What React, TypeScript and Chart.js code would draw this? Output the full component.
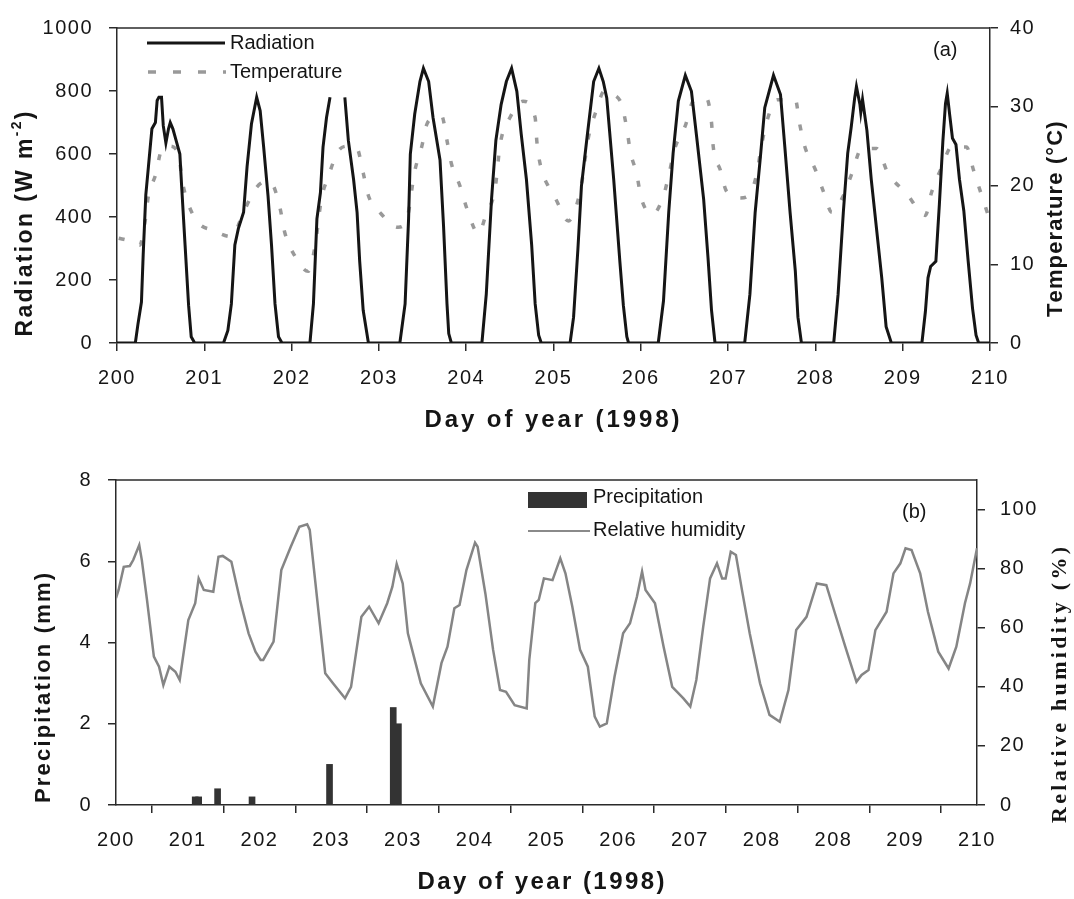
import React, { useEffect, useRef } from 'react';
import { Chart, registerables } from 'chart.js';

Chart.register(...registerables);

const W = 1074;
const TOP_H = 450;
const BOT_H = 449;

// ---------- Panel (a) data ----------
const radiation: [number, number | null][] = [
  [200.0, 0], [200.21, 0], [200.24, 60], [200.28, 130], [200.3, 280], [200.33, 470], [200.36, 560], [200.4, 680],
  [200.44, 700], [200.46, 770], [200.48, 780], [200.51, 780], [200.53, 690], [200.56, 635], [200.59, 680], [200.61, 700],
  [200.64, 680], [200.68, 640], [200.72, 600], [200.74, 500], [200.78, 310], [200.82, 120], [200.85, 20], [200.89, 0],
  [201.22, 0], [201.27, 40], [201.31, 124], [201.35, 311], [201.39, 363], [201.45, 415], [201.49, 560], [201.54, 695],
  [201.6, 780], [201.64, 737], [201.68, 622], [201.73, 467], [201.77, 311], [201.81, 124], [201.85, 20], [201.89, 0],
  [202.21, 0], [202.25, 124], [202.29, 394], [202.33, 477], [202.36, 622], [202.4, 716], [202.44, 780], [202.52, null],
  [202.61, 780], [202.65, 643], [202.71, 519], [202.75, 415], [202.78, 259], [202.82, 104], [202.88, 0],
  [203.24, 0], [203.3, 124], [203.34, 394], [203.36, 600], [203.41, 726], [203.47, 830], [203.51, 872], [203.57, 830],
  [203.62, 716], [203.7, 581], [203.74, 374], [203.78, 124], [203.8, 30], [203.83, 0],
  [204.18, 0], [204.23, 155], [204.29, 456], [204.34, 643], [204.4, 757], [204.46, 830], [204.52, 872], [204.58, 799],
  [204.63, 664], [204.69, 519], [204.75, 311], [204.79, 124], [204.83, 25], [204.86, 0],
  [205.19, 0], [205.23, 82], [205.28, 300], [205.32, 498], [205.38, 643], [205.46, 830], [205.52, 872], [205.57, 830],
  [205.61, 778], [205.69, 518], [205.76, 259], [205.8, 120], [205.84, 20], [205.86, 0],
  [206.2, 0], [206.26, 134], [206.32, 415], [206.37, 602], [206.43, 768], [206.51, 850], [206.58, 799], [206.64, 654],
  [206.72, 456], [206.77, 270], [206.81, 104], [206.85, 0],
  [207.19, 0], [207.25, 155], [207.31, 415], [207.37, 591], [207.42, 747], [207.52, 850], [207.6, 789], [207.65, 622],
  [207.71, 415], [207.77, 228], [207.8, 82], [207.84, 0],
  [208.21, 0], [208.26, 155], [208.32, 415], [208.37, 602], [208.41, 685], [208.45, 778], [208.47, 814], [208.51, 757],
  [208.52, 732], [208.54, 773], [208.59, 675], [208.64, 519], [208.7, 363], [208.76, 207], [208.81, 52], [208.87, 0],
  [209.22, 0], [209.26, 100], [209.29, 207], [209.32, 243], [209.38, 259], [209.42, 440], [209.46, 640], [209.49, 760],
  [209.51, 793], [209.54, 720], [209.57, 650], [209.61, 630], [209.65, 520], [209.7, 420], [209.75, 260], [209.8, 110],
  [209.84, 25], [209.87, 0], [210.0, 0],
];

const temperature: [number, number][] = [
  [200.02, 13.3], [200.13, 13.0], [200.26, 12.4], [200.32, 15.3], [200.36, 18.7], [200.44, 21.3], [200.51, 24.5],
  [200.6, 25.0], [200.71, 23.8], [200.74, 21.1], [200.8, 18.2], [200.93, 15.3], [201.1, 14.3], [201.31, 13.5],
  [201.45, 16.6], [201.58, 19.5], [201.7, 20.5], [201.77, 20.3], [201.87, 17.0], [201.92, 14.1], [202.04, 11.0],
  [202.19, 9.1], [202.27, 12.4], [202.34, 18.2], [202.42, 21.1], [202.53, 24.3], [202.65, 25.0], [202.75, 24.7],
  [202.82, 21.6], [202.88, 18.7], [203.01, 16.6], [203.22, 14.7], [203.32, 15.7], [203.41, 21.8], [203.49, 24.9],
  [203.55, 27.8], [203.64, 28.6], [203.72, 28.8], [203.78, 25.7], [203.83, 22.8], [203.93, 19.9], [204.01, 17.0],
  [204.14, 13.9], [204.23, 16.4], [204.33, 19.5], [204.39, 25.3], [204.5, 28.6], [204.65, 30.7], [204.79, 28.6],
  [204.81, 25.5], [204.85, 22.6], [204.96, 19.5], [205.02, 18.4], [205.17, 15.5], [205.25, 17.0], [205.32, 20.1],
  [205.36, 23.2], [205.4, 26.1], [205.48, 29.2], [205.59, 32.1], [205.7, 31.5], [205.78, 30.3], [205.84, 27.2],
  [205.88, 24.3], [205.95, 21.6], [206.01, 18.2], [206.14, 16.4], [206.26, 18.7], [206.32, 21.3], [206.39, 24.7],
  [206.51, 27.6], [206.6, 30.7], [206.75, 31.1], [206.81, 28.0], [206.83, 24.9], [206.91, 22.0], [206.98, 19.3],
  [207.14, 18.4], [207.25, 18.9], [207.33, 21.6], [207.38, 24.9], [207.44, 28.0], [207.56, 30.9], [207.77, 30.9],
  [207.82, 27.8], [207.88, 24.9], [208.0, 22.0], [208.09, 19.3], [208.19, 16.6], [208.32, 18.7], [208.42, 21.6],
  [208.53, 24.7], [208.7, 24.7], [208.83, 21.6], [209.05, 18.9], [209.26, 16.2], [209.33, 19.1], [209.45, 22.4],
  [209.56, 24.9], [209.73, 24.9], [209.81, 22.0], [209.9, 18.9], [209.98, 16.2],
];

const topXTicks = [200, 201, 202, 203, 204, 205, 206, 207, 208, 209, 210];
const radiationTicks = [0, 200, 400, 600, 800, 1000];
const temperatureTicks = [0, 10, 20, 30, 40];

// ---------- Panel (b) data ----------
const precipDays = [200.92, 200.96, 201.18, 201.58, 202.48, 203.22, 203.28];
const precipMm = [0.2, 0.2, 0.4, 0.2, 1.0, 2.4, 2.0];

const humidity: [number, number][] = [
  [200.0, 70.0], [200.03, 72.8], [200.09, 80.6], [200.16, 80.9], [200.2, 82.9], [200.27, 88.0], [200.3, 82.9],
  [200.36, 69.4], [200.44, 50.2], [200.5, 46.8], [200.55, 40.6], [200.62, 46.8], [200.69, 45.1], [200.74, 42.3],
  [200.84, 62.6], [200.92, 68.3], [200.96, 76.7], [201.02, 72.8], [201.13, 72.2], [201.19, 84.0], [201.24, 84.3],
  [201.34, 82.3], [201.44, 69.4], [201.54, 58.1], [201.62, 51.9], [201.68, 49.1], [201.71, 49.1], [201.83, 55.3],
  [201.92, 79.5], [202.03, 87.4], [202.13, 94.2], [202.22, 95.0], [202.25, 93.1], [202.35, 66.0], [202.43, 44.6],
  [202.52, 41.2], [202.66, 36.1], [202.73, 40.0], [202.85, 63.7], [202.94, 67.1], [203.05, 61.5], [203.15, 68.3],
  [203.21, 73.9], [203.26, 81.6], [203.33, 75.0], [203.39, 58.1], [203.46, 50.2], [203.54, 41.2], [203.68, 33.3],
  [203.78, 48.0], [203.85, 53.6], [203.93, 66.6], [203.99, 67.7], [204.07, 79.5], [204.17, 88.8], [204.2, 87.4],
  [204.29, 71.6], [204.38, 52.5], [204.46, 38.9], [204.53, 38.3], [204.63, 33.8], [204.77, 32.7], [204.8, 49.1],
  [204.87, 68.3], [204.91, 69.4], [204.97, 76.7], [205.07, 76.1], [205.16, 83.5], [205.22, 78.4], [205.3, 67.1],
  [205.39, 52.5], [205.48, 46.8], [205.56, 29.9], [205.62, 26.5], [205.7, 27.6], [205.79, 43.4], [205.89, 58.1],
  [205.97, 61.5], [206.05, 70.5], [206.11, 79.0], [206.15, 72.8], [206.26, 68.3], [206.36, 53.6], [206.46, 40.0],
  [206.59, 36.1], [206.67, 33.3], [206.74, 42.3], [206.82, 60.3], [206.9, 76.7], [206.98, 81.8], [207.04, 76.7],
  [207.08, 76.7], [207.14, 85.7], [207.2, 84.6], [207.27, 72.8], [207.36, 58.1], [207.48, 41.2], [207.59, 30.5],
  [207.71, 28.2], [207.81, 38.9], [207.9, 59.2], [208.02, 63.7], [208.14, 75.0], [208.25, 74.4], [208.35, 64.9],
  [208.47, 53.6], [208.6, 41.7], [208.66, 44.0], [208.74, 45.7], [208.82, 59.2], [208.95, 65.4], [209.03, 78.4],
  [209.11, 81.8], [209.17, 86.9], [209.24, 86.3], [209.34, 78.4], [209.43, 65.4], [209.55, 51.9], [209.67, 46.2],
  [209.76, 53.6], [209.86, 68.3], [209.92, 75.0], [210.0, 86.9],
];

const bottomXTicks = [200, 200.833, 201.667, 202.5, 203.333, 204.167, 205, 205.833, 206.667, 207.5, 208.333, 209.167, 210];
const bottomXLabels = ['200', '201', '202', '203', '203', '204', '205', '206', '207', '208', '208', '209', '210'];
const precipTicks = [0, 2, 4, 6, 8];
const humidityTicks = [0, 20, 40, 60, 80, 100];

// ---------- styling helpers ----------
const INK = '#151515';
const AXIS = '#2a2a2a';
const SANS = '"Liberation Sans", Arial, sans-serif';
const SERIF = '"Liberation Serif", "Times New Roman", serif';

function fitText(ctx: CanvasRenderingContext2D, text: string, cx: number, cy: number, width: number, font: string, rotate: boolean) {
  ctx.save();
  ctx.font = font;
  (ctx as any).letterSpacing = '0px';
  const w0 = ctx.measureText(text).width;
  const n = Array.from(text).length;
  const sp = n > 1 ? (width - w0) / (n - 1) : 0;
  ctx.translate(cx, cy);
  if (rotate) ctx.rotate(-Math.PI / 2);
  ctx.fillStyle = INK;
  ctx.textAlign = 'left';
  ctx.textBaseline = 'middle';
  let x = -width / 2;
  for (const ch of Array.from(text)) {
    ctx.fillText(ch, x, 0);
    x += ctx.measureText(ch).width + sp;
  }
  ctx.restore();
}

function plainText(ctx: CanvasRenderingContext2D, text: string, x: number, y: number, font: string) {
  ctx.save();
  (ctx as any).letterSpacing = '0px';
  ctx.font = font;
  ctx.fillStyle = INK;
  ctx.textAlign = 'left';
  ctx.textBaseline = 'middle';
  ctx.fillText(text, x, y);
  ctx.restore();
}

function radiationTitle(ctx: CanvasRenderingContext2D) {
  const main = `bold 23px ${SANS}`;
  const sup = `bold 14px ${SANS}`;
  const parts: [string, string, number][] = [['Radiation (W m', main, 0], ['-2', sup, -9], [')', main, 0]];
  ctx.save();
  (ctx as any).letterSpacing = '0px';
  let total = 0;
  let count = 0;
  for (const [t, f] of parts) {
    ctx.font = f;
    for (const ch of Array.from(t)) { total += ctx.measureText(ch).width; count++; }
  }
  const target = 225;
  const sp = (target - total) / (count - 1);
  ctx.translate(26, 224);
  ctx.rotate(-Math.PI / 2);
  ctx.fillStyle = INK;
  ctx.textAlign = 'left';
  ctx.textBaseline = 'middle';
  let x = -target / 2;
  for (const [t, f, dy] of parts) {
    ctx.font = f;
    for (const ch of Array.from(t)) {
      ctx.fillText(ch, x, dy);
      x += ctx.measureText(ch).width + sp;
    }
  }
  ctx.restore();
}

const tickFont = { family: SANS, size: 20 };

function axisCommon(extra: any) {
  return {
    grid: { display: true, drawOnChartArea: false, drawTicks: true, tickLength: 8, color: AXIS, lineWidth: 1.5 },
    border: { display: true, color: AXIS, width: 1.5 },
    ...extra,
  };
}

const spacingPlugin = {
  id: 'tickSpacing',
  beforeDraw(chart: any) {
    (chart.ctx as any).letterSpacing = '1.5px';
  },
};

const topDecor = {
  id: 'topDecor',
  afterDraw(chart: any) {
    const ctx: CanvasRenderingContext2D = chart.ctx;
    const a = chart.chartArea;
    ctx.save();
    (ctx as any).letterSpacing = '0px';
    ctx.strokeStyle = AXIS;
    ctx.lineWidth = 1.5;
    ctx.beginPath();
    ctx.moveTo(a.left, a.top);
    ctx.lineTo(a.right, a.top);
    ctx.stroke();
    // legend
    ctx.strokeStyle = INK;
    ctx.lineWidth = 3;
    ctx.beginPath();
    ctx.moveTo(147, 43);
    ctx.lineTo(225, 43);
    ctx.stroke();
    ctx.strokeStyle = '#999999';
    ctx.lineWidth = 3.5;
    ctx.setLineDash([8, 17]);
    ctx.beginPath();
    ctx.moveTo(148, 72);
    ctx.lineTo(226, 72);
    ctx.stroke();
    ctx.setLineDash([]);
    ctx.restore();
    plainText(ctx, 'Radiation', 230, 43, `20px ${SANS}`);
    plainText(ctx, 'Temperature', 230, 72, `20px ${SANS}`);
    plainText(ctx, '(a)', 933, 50, `20px ${SANS}`);
    radiationTitle(ctx);
    fitText(ctx, 'Temperature (°C)', 1056, 220, 194, `bold 22px ${SANS}`, true);
    fitText(ctx, 'Day of year (1998)', 552, 420, 255, `bold 24px ${SANS}`, false);
  },
};

const bottomDecor = {
  id: 'bottomDecor',
  afterDraw(chart: any) {
    const ctx: CanvasRenderingContext2D = chart.ctx;
    const a = chart.chartArea;
    ctx.save();
    (ctx as any).letterSpacing = '0px';
    ctx.strokeStyle = AXIS;
    ctx.lineWidth = 1.5;
    ctx.beginPath();
    ctx.moveTo(a.left, a.top);
    ctx.lineTo(a.right, a.top);
    ctx.stroke();
    // legend
    ctx.fillStyle = '#333333';
    ctx.fillRect(528, 42, 59, 16);
    ctx.strokeStyle = '#8a8a8a';
    ctx.lineWidth = 2;
    ctx.beginPath();
    ctx.moveTo(528, 81);
    ctx.lineTo(590, 81);
    ctx.stroke();
    ctx.restore();
    plainText(ctx, 'Precipitation', 593, 47, `20px ${SANS}`);
    plainText(ctx, 'Relative humidity', 593, 80, `20px ${SANS}`);
    plainText(ctx, '(b)', 902, 62, `20px ${SANS}`);
    fitText(ctx, 'Precipitation (mm)', 44, 238, 230, `bold 22px ${SANS}`, true);
    fitText(ctx, 'Relative humidity (%)', 1060, 235, 276, `bold 22px ${SERIF}`, true);
    fitText(ctx, 'Day of year (1998)', 541, 432, 247, `bold 24px ${SANS}`, false);
  },
};

function topConfig(): any {
  return {
    type: 'line',
    data: {
      datasets: [
        {
          label: 'Radiation',
          data: radiation.map(([x, y]) => ({ x, y })),
          yAxisID: 'y',
          borderColor: INK,
          borderWidth: 3,
          pointRadius: 0,
          tension: 0,
          spanGaps: false,
        },
        {
          label: 'Temperature',
          data: temperature.map(([x, y]) => ({ x, y })),
          yAxisID: 'y2',
          borderColor: '#999999',
          borderWidth: 3.5,
          borderDash: [6, 16],
          pointRadius: 0,
          cubicInterpolationMode: 'monotone',
        },
      ],
    },
    options: {
      responsive: false,
      animation: false,
      events: [],
      layout: { padding: { top: 21, left: 0, right: 0, bottom: 0 } },
      plugins: { legend: { display: false }, tooltip: { enabled: false } },
      scales: {
        x: axisCommon({
          type: 'linear', position: 'bottom', min: 200, max: 210,
          afterBuildTicks: (s: any) => { s.ticks = topXTicks.map((v) => ({ value: v })); },
          afterFit: (s: any) => { s.height = TOP_H - 343; },
          ticks: { font: tickFont, color: INK, padding: 15, autoSkip: false, maxRotation: 0, callback: (v: any) => String(v) },
        }),
        y: axisCommon({
          type: 'linear', position: 'left', min: 0, max: 1000,
          afterBuildTicks: (s: any) => { s.ticks = radiationTicks.map((v) => ({ value: v })); },
          afterFit: (s: any) => { s.width = 117; },
          ticks: { font: tickFont, color: INK, padding: 16, callback: (v: any) => String(v) },
        }),
        y2: axisCommon({
          type: 'linear', position: 'right', min: 0, max: 40,
          afterBuildTicks: (s: any) => { s.ticks = temperatureTicks.map((v) => ({ value: v })); },
          afterFit: (s: any) => { s.width = W - 990; },
          ticks: { font: tickFont, color: INK, padding: 12, callback: (v: any) => String(v) },
        }),
      },
    },
    plugins: [spacingPlugin, topDecor],
  };
}

function bottomConfig(): any {
  return {
    type: 'bar',
    data: {
      datasets: [
        {
          type: 'line',
          label: 'Relative humidity',
          data: humidity.map(([x, y]) => ({ x, y })),
          yAxisID: 'y2',
          borderColor: '#858585',
          borderWidth: 2.5,
          pointRadius: 0,
          tension: 0,
          order: 1,
        },
        {
          type: 'bar',
          label: 'Precipitation',
          data: precipDays.map((x, i) => ({ x, y: precipMm[i] })),
          yAxisID: 'y',
          backgroundColor: '#333333',
          borderWidth: 0,
          barThickness: 6,
          order: 2,
        },
      ],
    },
    options: {
      responsive: false,
      animation: false,
      events: [],
      layout: { padding: { top: 30, left: 0, right: 0, bottom: 0 } },
      plugins: { legend: { display: false }, tooltip: { enabled: false } },
      scales: {
        x: axisCommon({
          type: 'linear', position: 'bottom', min: 200, max: 210, offset: false,
          afterBuildTicks: (s: any) => { s.ticks = bottomXTicks.map((v) => ({ value: v })); },
          afterFit: (s: any) => { s.height = BOT_H - 355; },
          ticks: {
            font: tickFont, color: INK, padding: 15, autoSkip: false, maxRotation: 0,
            callback: (_v: any, i: number) => bottomXLabels[i],
          },
        }),
        y: axisCommon({
          type: 'linear', position: 'left', min: 0, max: 8,
          afterBuildTicks: (s: any) => { s.ticks = precipTicks.map((v) => ({ value: v })); },
          afterFit: (s: any) => { s.width = 116; },
          ticks: { font: tickFont, color: INK, padding: 16, callback: (v: any) => String(v) },
        }),
        y2: axisCommon({
          type: 'linear', position: 'right', min: 0, max: 110,
          afterBuildTicks: (s: any) => { s.ticks = humidityTicks.map((v) => ({ value: v })); },
          afterFit: (s: any) => { s.width = W - 977; },
          ticks: { font: tickFont, color: INK, padding: 15, callback: (v: any) => String(v) },
        }),
      },
    },
    plugins: [spacingPlugin, bottomDecor],
  };
}

export default function App() {
  const topRef = useRef<HTMLCanvasElement>(null);
  const botRef = useRef<HTMLCanvasElement>(null);
  useEffect(() => {
    const c1 = new Chart(topRef.current as HTMLCanvasElement, topConfig());
    const c2 = new Chart(botRef.current as HTMLCanvasElement, bottomConfig());
    return () => {
      c1.destroy();
      c2.destroy();
    };
  }, []);
  return (
    <div style={{ position: 'absolute', left: 0, top: 0, width: W, height: TOP_H + BOT_H, background: '#fff' }}>
      <canvas ref={topRef} width={W} height={TOP_H} style={{ position: 'absolute', left: 0, top: 0 }} />
      <canvas ref={botRef} width={W} height={BOT_H} style={{ position: 'absolute', left: 0, top: TOP_H }} />
    </div>
  );
}
